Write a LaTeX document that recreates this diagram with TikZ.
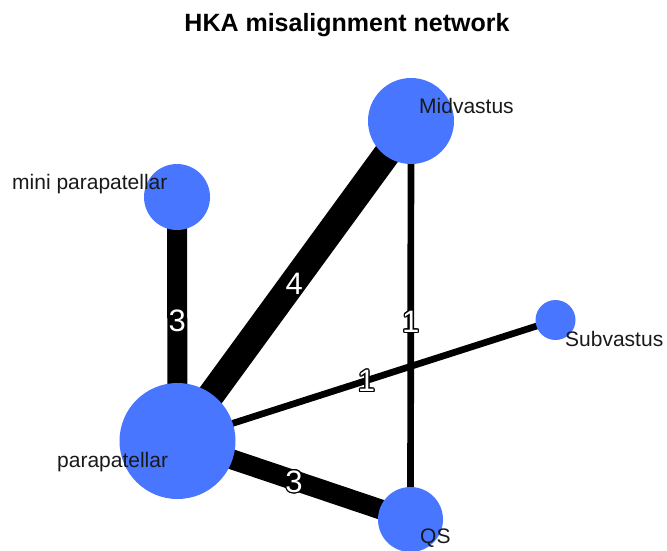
\documentclass[tikz,border=0pt]{standalone}
\usepackage{fontspec}
\setmainfont{Liberation Sans}
\usepackage[copies]{contour}
\usetikzlibrary{backgrounds}
\definecolor{vblue}{RGB}{72,118,255}
\definecolor{ltext}{RGB}{25,25,25}
\contourlength{1.2pt}
\contournumber{16}
\newcommand{\outl}[1]{\contour{black}{\textcolor{white}{#1}}}
\tikzset{
  vert/.style={circle, fill=vblue, draw=none, inner sep=0pt},
  edge/.style={draw=black, line cap=butt},
  elab/.style={inner sep=0pt, font=\fontsize{31}{31}\selectfont},
  vlab/.style={anchor=base west, inner sep=0pt, text=ltext, font=\fontsize{21}{21}\selectfont},
  ttl/.style={anchor=base, inner sep=0pt, font=\fontsize{25}{25}\selectfont\bfseries}
}
\begin{document}
\begin{tikzpicture}[x=1pt,y=-1pt]
\useasboundingbox (0,0) rectangle (667,550);
\node[ttl] (title) at (347,31) {HKA misalignment network};
% vertices
\node[vert, minimum size=116pt] (para) at (177.5,441) {};
\node[vert, minimum size=66pt] (mini) at (177,197) {};
\node[vert, minimum size=86pt] (mid) at (411,121) {};
\node[vert, minimum size=40pt] (sub) at (555.5,320) {};
\node[vert, minimum size=65pt] (qs) at (410.5,519.5) {};
% edges
\begin{scope}[on background layer]
\draw[edge, line width=20pt] (mini.center) -- (para.center);
\draw[edge, line width=27pt] (para.center) -- (mid.center);
\draw[edge, line width=6.7pt] (mid.center) -- (qs.center);
\draw[edge, line width=6.7pt] (para.center) -- (sub.center);
\draw[edge, line width=20pt] (para.center) -- (qs.center);
\end{scope}
% edge labels
\path (mini.center) -- (para.center) node[elab, pos=0.5, yshift=-2pt] (l1) {\outl{3}};
\path (para.center) -- (mid.center) node[elab, pos=0.5, yshift=-3pt] (l2) {\outl{4}};
\path (mid.center) -- (qs.center) node[elab, pos=0.5, yshift=-2pt] (l3) {\outl{1}};
\path (para.center) -- (sub.center) node[elab, pos=0.5, yshift=-1pt] (l4) {\outl{1}};
\path (para.center) -- (qs.center) node[elab, pos=0.5, yshift=-2pt] (l5) {\outl{3}};
% vertex labels
\node[vlab] (tmini) at (12,189) {mini parapatellar};
\node[vlab] (tmid) at (419,113) {Midvastus};
\node[vlab] (tsub) at (565,346) {Subvastus};
\node[vlab] (tpara) at (57,467) {parapatellar};
\node[vlab] (tqs) at (420,543) {QS};
\end{tikzpicture}
\end{document}
